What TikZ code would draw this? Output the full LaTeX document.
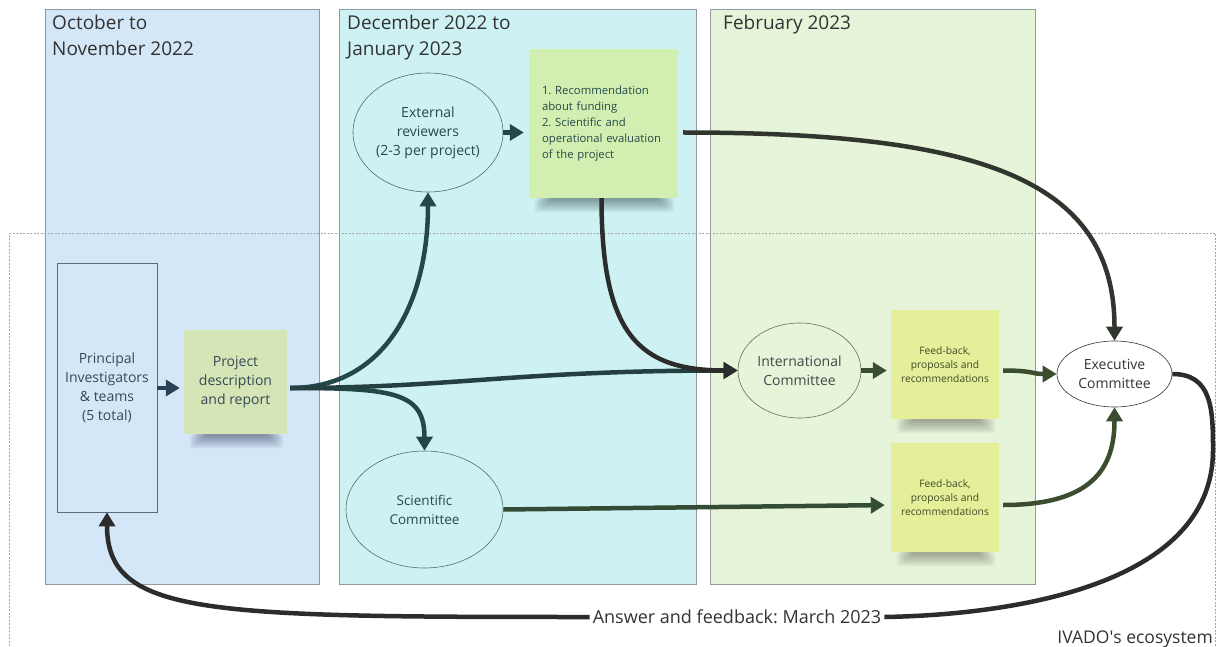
\documentclass[tikz,border=0pt]{standalone}
\usepackage{fontspec}
\setmainfont{Open Sans}
\usetikzlibrary{arrows.meta,shapes.geometric,calc}
\frenchspacing
\definecolor{pblue}{HTML}{D4E7F8}
\definecolor{pcyan}{HTML}{CEF2F4}
\definecolor{pgreen}{HTML}{E6F4DA}
\definecolor{pborder}{HTML}{8E9AA0}
\definecolor{noteA}{HTML}{D6E5B6}
\definecolor{noteB}{HTML}{D2EEB0}
\definecolor{noteC}{HTML}{E5EF9A}
\definecolor{cteal}{HTML}{224848}
\definecolor{cdark}{HTML}{2C2C2C}
\definecolor{colive}{HTML}{3B4D2E}
\definecolor{cslate}{HTML}{2B4256}
\definecolor{tslate}{HTML}{34495A}
\definecolor{tteal}{HTML}{244A4A}
\definecolor{tolive}{HTML}{3E4A26}
\definecolor{thead}{HTML}{333333}
\newcommand\notesh[2]{%
  \foreach \i in {0,...,7} {%
    \fill[#2, opacity=0.055, rounded corners=3pt]
      ($(#1.south west)+(6+\i*2.2,0)$) rectangle ($(#1.south east)+(-4-\i*2.2,14-\i*1.7)$);
  }%
}
\tikzset{
  panel/.style={draw=pborder, line width=0.8pt, anchor=north west, inner sep=0pt},
  head/.style={anchor=north west, inner sep=0pt, align=left, text=thead, font=\fontsize{19}{26}\selectfont},
  note/.style={inner sep=0pt, align=center},
  oval/.style={ellipse, draw=#1, line width=0.6pt, inner sep=0pt, align=center},
  conn/.style={line width=4.5pt, draw=#1, -{Triangle[length=14pt,width=16pt]}},
  line/.style={line width=4.5pt, draw=#1},
  big/.style={font=\fontsize{14}{19}\selectfont},
}
\begin{document}
\begin{tikzpicture}[x=1pt,y=-1pt]
\useasboundingbox (0,0) rectangle (1220,647);
\fill[white] (0,0) rectangle (1220,647);
% panels
\node[panel, fill=pblue, minimum width=274pt, minimum height=575pt] (p1) at (45,9) {};
\node[panel, fill=pcyan, minimum width=357pt, minimum height=575pt] (p2) at (339,9) {};
\node[panel, fill=pgreen, minimum width=325pt, minimum height=575pt] (p3) at (710,9) {};
\node[head] (h1) at (52,15) {October to\\November 2022};
\node[head] (h2) at (347,15) {December 2022 to\\January 2023};
\node[head] (h3) at (723,15) {February 2023};
% ecosystem frame
\draw[gray!70, line width=0.8pt, dash pattern=on 2pt off 1.5pt] (9,660) -- (9,233) -- (1215.5,233) -- (1215.5,660);
\node[anchor=base east, inner sep=0pt, text=thead, font=\fontsize{17.5}{22}\selectfont] (eco) at (1213,643) {IVADO{\XeTeXglyph\XeTeXcharglyph"0027}s ecosystem};
% nodes
\node[draw=tslate!80, line width=0.6pt, minimum width=100pt, minimum height=249pt, inner sep=0pt, align=center, text=tslate, big] (pi) at (107,387.5) {Principal\\Investigators\\\& teams\\(5 total)};
\node[note, fill=noteA, minimum width=103pt, minimum height=104pt, text=tslate, big] (proj) at (235.5,382) {Project\\description\\and report};
\node[oval=tteal!80, minimum width=150pt, minimum height=119pt, text=tteal, big] (ext) at (428,132.5) {External\\reviewers\\(2-3 per project)};
\node[note, fill=noteB, minimum width=149pt, minimum height=149pt, text width=123pt, inner xsep=13pt, align=left, text=tteal, font=\fontsize{11.3}{16}\selectfont] (rec) at (603.5,123.5) {1. Recommendation\\about funding\\2. Scientific and\\operational evaluation\\of the project};
\node[oval=tteal!80, minimum width=157pt, minimum height=117pt, text=tteal, font=\fontsize{13.5}{19}\selectfont] (sci) at (424.5,509.5) {Scientific\\Committee};
\node[oval=colive!80, minimum width=123pt, minimum height=95pt, text=thead!90, big] (int) at (799.5,370.5) {International\\Committee};
\node[note, fill=noteC, minimum width=108pt, minimum height=109pt, text=tolive, font=\fontsize{10.3}{14.3}\selectfont] (fb1) at (945,364.5) {Feed-back,\\proposals and\\recommendations};
\node[note, fill=noteC, minimum width=108pt, minimum height=109pt, text=tolive, font=\fontsize{10.3}{14.3}\selectfont] (fb2) at (945,497.5) {Feed-back,\\proposals and\\recommendations};
\node[oval=thead, fill=white, minimum width=115pt, minimum height=66pt, text=thead, big] (exec) at (1114.5,374) {Executive\\Committee};
\node[fill=white, inner xsep=3pt, inner ysep=1pt, text=thead, font=\fontsize{18}{22}\selectfont] (ans) at (737,617) {Answer and feedback: March 2023};
% sticky-note shadows
\notesh{proj}{black!85!blue}
\notesh{rec}{black!85!teal}
\notesh{fb1}{black!85!olive}
\notesh{fb2}{black!85!olive}
% helper coordinates
\coordinate (ps) at ($(proj.east)+(3,6)$);
\coordinate (re) at ($(rec.east|-ext.east)+(5,0)$);
\coordinate (n1e) at ($(fb1.east)+(4,6)$);
\coordinate (n2e) at ($(fb2.east)+(4,7.5)$);
\coordinate (bend) at (1213,450);
% connectors
\draw[conn=cslate, shorten >=4pt] (pi.east|-ps) -- (proj.west|-ps);
\draw[conn=cteal, shorten >=5pt] (ext.east) -- (rec.west|-ext.east);
\draw[conn=cteal] (ps) .. controls ($(ps)+(95,0)$) and ($(ext.south)+(0,110)$) .. (ext.south);
\draw[conn=cteal] (ps) .. controls ($(ps)+(105,0)$) and ($(sci.north)+(0,-58)$) .. (sci.north);
\draw[conn=cteal!70!cdark] (ps) .. controls ($(ps)+(160,0)$) and ($(int.west)+(-220,0)$) .. (int.west);
\draw[conn=cdark] ($(rec.south)+(-2,0)$) .. controls ($(rec.south)+(-2,135)$) and ($(int.west)+(-100,0)$) .. (int.west);
\draw[conn=cdark!70!colive] (re) .. controls ($(re)+(300,0)$) and ($(exec.north)+(0,-160)$) .. (exec.north);
\draw[conn=colive, shorten >=4pt] (int.east) -- (fb1.west|-int.east);
\draw[conn=colive] (n1e) .. controls ($(n1e)+(30,0)$) and ($(exec.west)+(-25,0)$) .. (exec.west);
\draw[conn=colive!70!cteal, shorten >=6pt] (sci.east) -- ($(fb2.west)+(0,7.5)$);
\draw[conn=colive] (n2e) .. controls ($(n2e)+(90,0)$) and ($(exec.south)+(0,60)$) .. (exec.south);
\draw[line=cdark] (exec.east) .. controls ($(exec.east)+(40,0)$) and ($(bend)+(0,-40)$) .. (bend) .. controls ($(bend)+(0,140)$) and ($(ans.east)+(115,-2)$) .. (ans.east);
\draw[conn=cdark] (ans.west) .. controls ($(ans.west)+(-385,0)$) and ($(pi.south)+(0,103)$) .. (pi.south);
\end{tikzpicture}
\end{document}
